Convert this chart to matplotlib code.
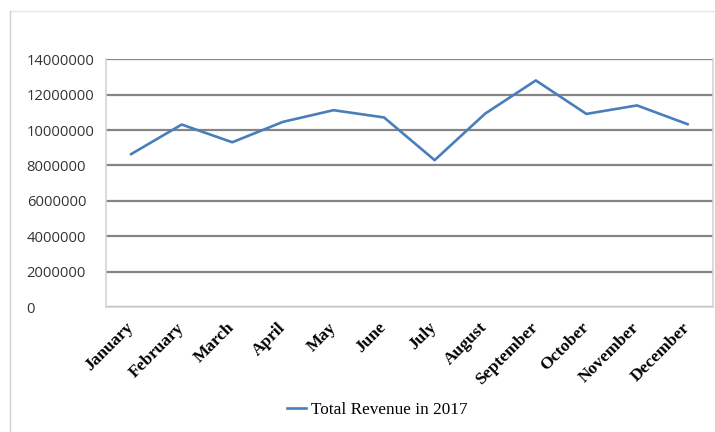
import matplotlib
matplotlib.use('Agg')
import matplotlib.pyplot as plt
from matplotlib.lines import Line2D

months = ['January', 'February', 'March', 'April', 'May', 'June', 'July',
          'August', 'September', 'October', 'November', 'December']
revenue = [8640000, 10310000, 9310000, 10460000, 11120000, 10710000,
           8300000, 10930000, 12800000, 10910000, 11390000, 10330000]
yticks = [0, 2000000, 4000000, 6000000, 8000000, 10000000, 12000000, 14000000]
series_name = 'Total Revenue in 2017'

fig = plt.figure(figsize=(7.15, 4.32), dpi=100)
ax = fig.add_axes([0.148, 0.289, 0.849, 0.574])

x = list(range(len(months)))
ax.plot(x, revenue, color='#4a7ebb', linewidth=1.9, label=series_name, zorder=3)

ax.set_xlim(-0.5, len(months) - 0.5)
ax.set_ylim(0, 14000000)
ax.set_yticks(yticks)
ax.set_yticklabels([str(v) for v in yticks])
ax.yaxis.grid(True, color='#858585', linewidth=1.6)
ax.set_axisbelow(True)

for s in ['left', 'bottom', 'right']:
    ax.spines[s].set_color('#d4d4d4')
    ax.spines[s].set_linewidth(1.2)
ax.spines['top'].set_visible(False)

ax.tick_params(axis='y', length=0, pad=57, labelsize=10.6, labelcolor='#333333')
for lab in ax.get_yticklabels():
    lab.set_horizontalalignment('left')
    lab.set_fontfamily('Open Sans')

ax.set_xticks(x)
ax.set_xticklabels(months, rotation=45, ha='right', va='center',
                   rotation_mode='anchor', fontfamily='Liberation Serif',
                   fontweight='bold', fontsize=12.5)
ax.tick_params(axis='x', length=0, pad=13)

leg = fig.legend(loc='center', bbox_to_anchor=(0.528, 0.05), frameon=False,
                 prop={'family': 'Liberation Serif', 'size': 12.4},
                 handlelength=1.1, handletextpad=0.3)

# outer chart border (top and left only)
fig.add_artist(Line2D([0.014, 1.0], [0.975, 0.975], color='#e6e6e6', linewidth=1.0))
fig.add_artist(Line2D([0.014, 0.014], [0.0, 0.975], color='#d0d0d0', linewidth=1.0))

fig.savefig('out.png', dpi=100)
